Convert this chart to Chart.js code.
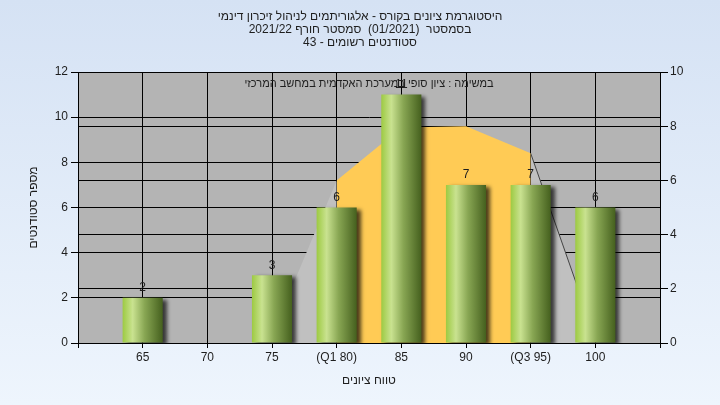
<!DOCTYPE html>
<html lang="he">
<head>
<meta charset="utf-8">
<script src="https://cdn.jsdelivr.net/npm/chart.js@4.4.1/dist/chart.umd.min.js"></script>
<style>
html,body{margin:0;padding:0;background:#e3ecf8;}
canvas{display:block;}
</style>
</head>
<body>
<canvas id="c" width="720" height="405" dir="rtl"></canvas>
<script>
// ---- data ----
const titleLines = [
  'היסטוגרמת ציונים בקורס - אלגוריתמים לניהול זיכרון דינמי',
  'בסמסטר  (01/2021)  סמסטר חורף 2021/22',
  'סטודנטים רשומים - 43'
];
const noteText = 'במשימה : ציון סופי במערכת האקדמית במחשב המרכזי';
const xAxisTitle = 'טווח ציונים';
const yAxisTitle = 'מספר סטודנטים';
const gradeLabels = ['65', '70', '75', '(Q1 80)', '85', '90', '(Q3 95)', '100'];
const studentCounts = [2, 0, 3, 6, 11, 7, 7, 6];
const curveValues = [null, null, 0.3, 6, 7.95, 8, 7, 0.2];
const q1Index = 3;
const q3Index = 6;
const leftTicksMax = 12;
const rightTicksMax = 10;

// ---- build ----
const labels = [''].concat(gradeLabels, ['']);
const pad = arr => [null].concat(arr, [null]);
const barData = pad(studentCounts);
const curve = pad(curveValues);
const seg = (from, to) => curve.map((v, i) => (i >= from + 1 && i <= to + 1) ? v : null);
const greyLeft = seg(0, q1Index);
const orangeMid = seg(q1Index, q3Index);
const greyRight = seg(q3Index, gradeLabels.length - 1);

const FONT = "'Liberation Sans', Arial, 'DejaVu Sans', sans-serif";
const TXT = '#1e1e1e';
const BAR_FRACTION = 0.62;

const bgPlugin = {
  id: 'bg',
  beforeDraw(chart) {
    const {ctx, width, height, chartArea: a} = chart;
    ctx.save();
    const g = ctx.createLinearGradient(0, 0, 0, height);
    g.addColorStop(0, '#d5e2f4');
    g.addColorStop(1, '#eef5fd');
    ctx.fillStyle = g;
    ctx.fillRect(0, 0, width, height);
    ctx.fillStyle = '#b4b4b4';
    ctx.fillRect(a.left, a.top, a.right - a.left, a.bottom - a.top);
    ctx.restore();
  }
};

const shadowPlugin = {
  id: 'barShadow',
  beforeDatasetDraw(chart, args) {
    if (chart.data.datasets[args.index].type !== 'bar') return;
    const ctx = chart.ctx;
    ctx.save();
    ctx.shadowColor = 'rgba(0,0,0,0.7)';
    ctx.shadowBlur = 4;
    ctx.shadowOffsetX = 4;
    ctx.shadowOffsetY = 2;
  },
  afterDatasetDraw(chart, args) {
    if (chart.data.datasets[args.index].type !== 'bar') return;
    chart.ctx.restore();
  }
};

const labelPlugin = {
  id: 'labels',
  afterDatasetsDraw(chart) {
    const {ctx, chartArea: a} = chart;
    ctx.save();
    ctx.font = '11px ' + FONT;
    ctx.fillStyle = TXT;
    ctx.textAlign = 'center';
    ctx.textBaseline = 'middle';
    ctx.fillText(noteText, (a.left + a.right) / 2, a.top + 12);
    const idx = chart.data.datasets.findIndex(d => d.type === 'bar');
    const meta = chart.getDatasetMeta(idx);
    ctx.font = '12px ' + FONT;
    ctx.textBaseline = 'bottom';
    meta.data.forEach((el, i) => {
      const v = barData[i];
      if (!v) return;
      ctx.fillText(String(v), el.x, el.y - 4);
    });
    ctx.restore();
  }
};

function barGradient(c) {
  const chart = c.chart;
  const xs = chart.scales && chart.scales.x;
  if (!xs || c.dataIndex === undefined || !isFinite(xs.width)) return '#8fb04f';
  const cx = xs.getPixelForValue(c.dataIndex);
  const w = (xs.width / (labels.length - 1)) * BAR_FRACTION;
  const g = chart.ctx.createLinearGradient(cx - w / 2, 0, cx + w / 2, 0);
  g.addColorStop(0, '#9dca42');
  g.addColorStop(0.25, '#c9e290');
  g.addColorStop(0.55, '#88a653');
  g.addColorStop(1, '#45601e');
  return g;
}

const areaBase = {
  type: 'line', yAxisID: 'y2', fill: 'origin', pointRadius: 0,
  tension: 0, spanGaps: false, order: 2
};

new Chart(document.getElementById('c'), {
  data: {
    labels: labels,
    datasets: [
      Object.assign({}, areaBase, {data: greyLeft, backgroundColor: '#c0c0c0', borderWidth: 0, borderColor: 'rgba(0,0,0,0)'}),
      Object.assign({}, areaBase, {data: orangeMid, backgroundColor: '#ffcb55', borderWidth: 0, borderColor: 'rgba(0,0,0,0)'}),
      Object.assign({}, areaBase, {data: greyRight, backgroundColor: '#c0c0c0', borderWidth: 1, borderColor: '#444444'}),
      {type: 'bar', yAxisID: 'y', data: barData, order: 0,
       backgroundColor: barGradient, borderWidth: 0,
       categoryPercentage: BAR_FRACTION, barPercentage: 1}
    ]
  },
  options: {
    responsive: false,
    animation: false,
    events: [],
    layout: {padding: 0},
    plugins: {
      legend: {display: false},
      tooltip: {enabled: false},
      title: {
        display: true, text: titleLines, color: TXT,
        font: {family: FONT, size: 12, weight: 'normal', lineHeight: 1.1},
        padding: {top: 10, bottom: 22.4}
      }
    },
    scales: {
      x: {
        type: 'category', offset: false,
        grid: {color: '#000', lineWidth: 1, tickLength: 5, drawOnChartArea: true, offset: false},
        border: {color: '#000', width: 1},
        ticks: {color: TXT, font: {family: FONT, size: 12}, padding: 2, maxRotation: 0, autoSkip: false},
        title: {display: true, text: xAxisTitle, color: TXT, font: {family: FONT, size: 12}, padding: {top: 0, bottom: 17}},
        afterFit(s) { s.height = 62; }
      },
      y: {
        position: 'left', min: 0, max: leftTicksMax,
        ticks: {stepSize: 2, color: TXT, font: {family: FONT, size: 12}, padding: 3},
        grid: {color: '#000', lineWidth: 1, tickLength: 7},
        border: {color: '#000', width: 1},
        title: {display: true, text: yAxisTitle, color: TXT, font: {family: FONT, size: 12}, padding: {top: 26, bottom: 0}},
        afterFit(s) { s.width = 78; }
      },
      y2: {
        position: 'right', min: 0, max: rightTicksMax,
        ticks: {stepSize: 2, color: TXT, font: {family: FONT, size: 12}, padding: 2},
        grid: {color: '#000', lineWidth: 1, tickLength: 8, drawOnChartArea: true},
        border: {color: '#000', width: 1},
        afterFit(s) { s.width = 60; }
      }
    }
  },
  plugins: [bgPlugin, shadowPlugin, labelPlugin]
});
</script>
</body>
</html>
